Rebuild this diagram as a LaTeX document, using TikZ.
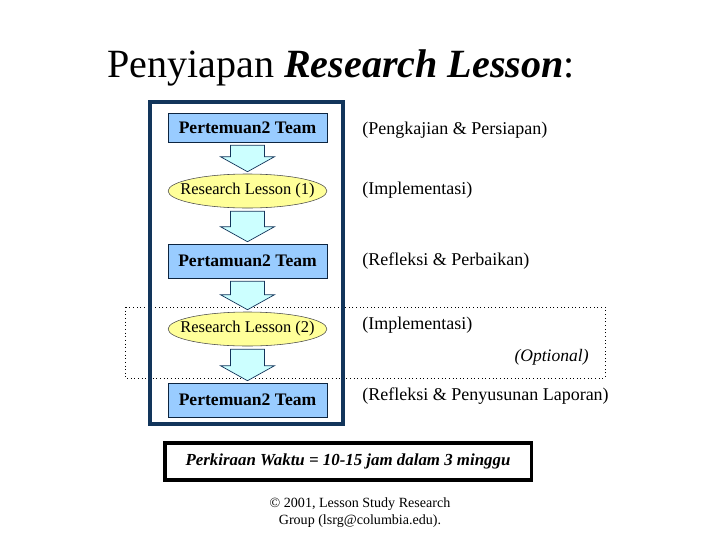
\documentclass[tikz,border=0pt]{standalone}
\usepackage{fontspec}
\setmainfont{Liberation Serif}
\usetikzlibrary{shapes.geometric, calc, positioning}
\definecolor{navyframe}{HTML}{12355B}
\definecolor{teamblue}{HTML}{99CCFF}
\definecolor{lessonyellow}{HTML}{FFFF99}
\definecolor{arrowcyan}{HTML}{CCFFFF}

\begin{document}
\begin{tikzpicture}[
    x=0.025cm, y=-0.025cm,
    team/.style={draw=navyframe!70!black, fill=teamblue, minimum width=3.97cm, inner sep=0pt, font=\fontsize{12.5}{14}\selectfont\bfseries},
    lesson/.style={draw=black!70, ellipse, fill=lessonyellow, minimum width=3.97cm, minimum height=0.85cm, inner xsep=-0.28cm, inner ysep=0pt, font=\fontsize{11.7}{13}\selectfont},
    note/.style={anchor=west, inner sep=0pt, font=\fontsize{12.8}{14}\selectfont},
    blockarr/.style={draw=navyframe, fill=arrowcyan, line width=0.5pt},
]
    \useasboundingbox (0,0) rectangle (720,540);

    \node[anchor=base, inner sep=0pt, font=\fontsize{28.5}{34}\selectfont] (title) at (341,77) {Penyiapan \textbf{\textit{Research Lesson}}:};

    % optional part and the frame round the steps
    \draw[dotted, line width=0.6pt] (125,307) rectangle (605,378);
    \draw[navyframe, line width=2.9pt] (150,102) rectangle (343,424);

    \node[team, minimum height=0.725cm] (meet1) at (247.5,127.5) {Pertemuan2 Team};
    \node[lesson] (rl1) at (247.5,191) {Research Lesson (1)};
    \node[team, minimum height=0.85cm] (meet2) at (247.5,261) {Pertamuan2 Team};
    \node[lesson] (rl2) at (247.5,329) {Research Lesson (2)};
    \node[team, minimum height=0.85cm] (meet3) at (247.5,400) {Pertemuan2 Team};

    \foreach \a/\b in {meet1/rl1, rl1/meet2, meet2/rl2, rl2/meet3}
        \draw[blockarr] ($(\a.south)+(-17,3)$) -- ($(\a.south)+(17,3)$) -- ($(\b.north)+(17,-17)$) -- ($(\b.north)+(27,-17)$) -- ($(\b.north)+(0,-2)$) -- ($(\b.north)+(-27,-17)$) -- ($(\b.north)+(-17,-17)$) -- cycle;

    \node[note] (prep) at (362,130) {(Pengkajian \& Persiapan)};
    \node[note] (impl1) at (362,190) {(Implementasi)};
    \node[note] (refl1) at (362,261) {(Refleksi \& Perbaikan)};
    \node[note] (impl2) at (362,325) {(Implementasi)};
    \node[note, anchor=east, font=\fontsize{12.5}{14}\selectfont\itshape] (opt) at (589,357) {(Optional)};
    \node[note] (refl2) at (362,396) {(Refleksi \& Penyusunan Laporan)};

    \node[draw, line width=2.2pt, minimum width=9.15cm, minimum height=0.925cm, font=\fontsize{12}{14}\selectfont\bfseries\itshape] (waktu) at (348,461.5) {Perkiraan Waktu = 10-15 jam dalam 3 minggu};

    \node[align=center, inner sep=0pt, font=\fontsize{10}{12}\selectfont] (credit) at (360,513) {\textcopyright{} 2001, Lesson Study Research\\Group (lsrg@columbia.edu).};
\end{tikzpicture}
\end{document}
